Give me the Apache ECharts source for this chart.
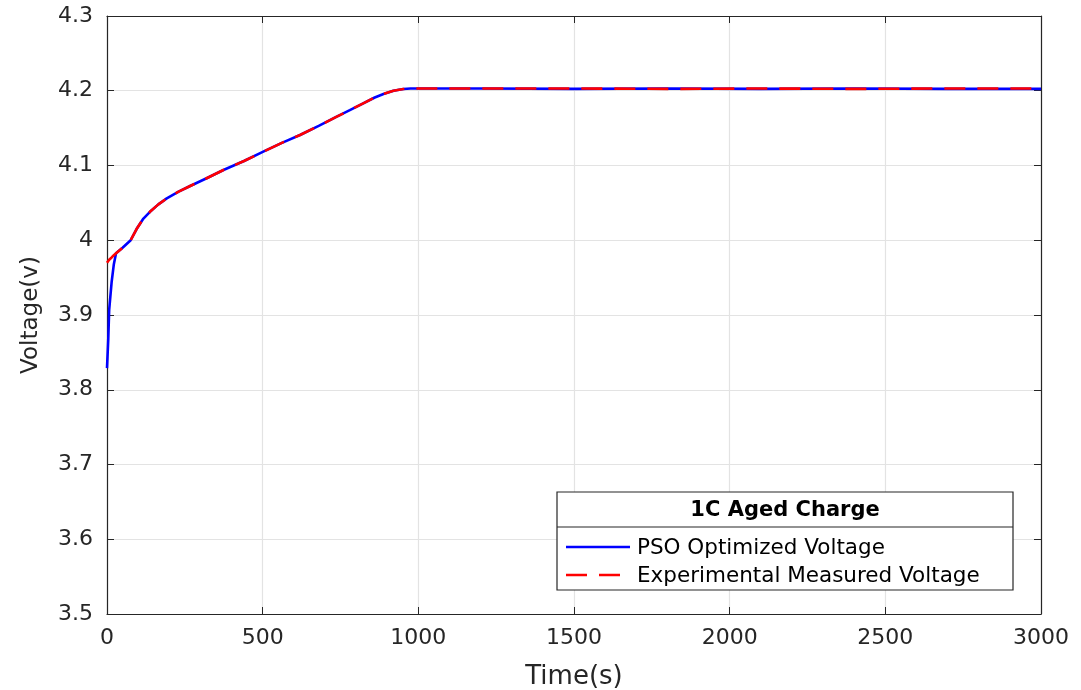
<!DOCTYPE html>
<html>
<head>
<meta charset="utf-8">
<script src="https://cdn.jsdelivr.net/npm/echarts@6/dist/echarts.min.js"></script>
<style>
  html, body { margin: 0; padding: 0; background: #fff; }
  #chart { width: 1081px; height: 690px; }
</style>
</head>
<body>
<div id="chart"></div>
<script>
/* values */
let timeSec = [0, 4, 7, 15, 22, 29, 50, 76, 95, 117, 138, 165, 192, 230, 267, 320, 374, 440, 502,
  560, 620, 680, 738, 780, 823, 860, 888, 920, 952, 975, 995, 1200, 1500, 1800, 2100, 2400, 2700, 3000];

let psoVoltage = [3.829, 3.867, 3.907, 3.9445, 3.968, 3.9825, 3.99, 4.0, 4.015, 4.029, 4.038, 4.048,
  4.056, 4.065, 4.0726, 4.083, 4.094, 4.106, 4.1185, 4.13, 4.1408, 4.153, 4.1653, 4.174, 4.1832,
  4.191, 4.1957, 4.2, 4.2023, 4.203, 4.203, 4.203, 4.2025, 4.203, 4.2025, 4.203, 4.2025, 4.2025];

let measuredVoltage = [3.970, 3.972, 3.974, 3.977, 3.980, 3.9825, 3.99, 4.0, 4.015, 4.029, 4.038,
  4.048, 4.056, 4.065, 4.0726, 4.083, 4.094, 4.106, 4.1185, 4.13, 4.1408, 4.153, 4.1653, 4.174,
  4.1832, 4.191, 4.1957, 4.2, 4.2023, 4.203, 4.203, 4.203, 4.203, 4.2025, 4.203, 4.2025, 4.203, 4.203];

let seriesNames = ["PSO Optimized Voltage", "Experimental Measured Voltage"];
let legendTitle = "1C Aged Charge";

let xTicks = { min: 0, max: 3000, interval: 500 };
let yTicks = { min: 3.5, max: 4.3, interval: 0.1 };

let FONT = "'DejaVu Sans', 'Liberation Sans', Arial, sans-serif";
let AXIS_COLOR = "#262626";
let GRID_COLOR = "#e3e3e3";
let BLUE = "#0000ff";
let RED = "#ff0000";
let DASH = [21, 12];

function pairs(xs, ys) {
  return xs.map(function (x, i) { return [x, ys[i]]; });
}

let chart = echarts.init(document.getElementById("chart"), null, { renderer: "canvas" });

let baseAxis = {
  axisLine: { show: true, onZero: false, lineStyle: { color: AXIS_COLOR, width: 1.2 } },
  axisTick: { show: true, inside: true, length: 7, lineStyle: { color: AXIS_COLOR } },
};

/* legend box drawn by hand (MATLAB style, with a title row) */
let legendBox = [
  {
    type: "rect", z: 50,
    shape: { x: 557, y: 492, width: 456, height: 98 },
    style: { fill: "#fff", stroke: "#262626", lineWidth: 1.2 },
  },
  {
    type: "line", z: 51,
    shape: { x1: 557, y1: 527, x2: 1013, y2: 527 },
    style: { stroke: "#262626", lineWidth: 1.2 },
  },
  {
    type: "text", z: 51, x: 785, y: 511,
    style: {
      text: legendTitle, fill: "#000",
      font: "bold 21px " + FONT, align: "center", verticalAlign: "middle",
    },
  },
  {
    type: "line", z: 51,
    shape: { x1: 566, y1: 547, x2: 630, y2: 547 },
    style: { stroke: BLUE, lineWidth: 2.4 },
  },
  {
    type: "text", z: 51, x: 637, y: 548,
    style: { text: seriesNames[0], fill: "#000", font: "21.5px " + FONT, verticalAlign: "middle" },
  },
  {
    type: "line", z: 51,
    shape: { x1: 566, y1: 575, x2: 630, y2: 575 },
    style: { stroke: RED, lineWidth: 2.4, lineDash: DASH },
  },
  {
    type: "text", z: 51, x: 637, y: 576,
    style: { text: seriesNames[1], fill: "#000", font: "21.5px " + FONT, verticalAlign: "middle" },
  },
];

chart.setOption({
  animation: false,
  backgroundColor: "#fff",
  textStyle: { fontFamily: FONT },
  grid: { left: 107, right: 40, top: 16, bottom: 76, containLabel: false, outerBoundsMode: "none" },
  xAxis: [
    Object.assign({}, baseAxis, {
      type: "value",
      min: xTicks.min, max: xTicks.max, interval: xTicks.interval,
      name: "Time(s)",
      nameLocation: "middle",
      nameGap: 50,
      nameTextStyle: { fontSize: 26, color: AXIS_COLOR, fontFamily: FONT },
      axisLabel: {
        fontSize: 22, color: AXIS_COLOR, margin: 13, fontFamily: FONT,
        formatter: function (v) { return String(v); },
      },
      splitLine: { show: true, lineStyle: { color: GRID_COLOR, width: 1.2 } },
    }),
    Object.assign({}, baseAxis, {
      type: "value", position: "top",
      min: xTicks.min, max: xTicks.max, interval: xTicks.interval,
      axisLabel: { show: false },
      splitLine: { show: false },
    }),
  ],
  yAxis: [
    Object.assign({}, baseAxis, {
      type: "value",
      min: yTicks.min, max: yTicks.max, interval: yTicks.interval,
      name: "Voltage(v)",
      nameLocation: "middle",
      nameGap: 64,
      nameTextStyle: { fontSize: 23, color: AXIS_COLOR, fontFamily: FONT },
      axisLabel: {
        fontSize: 22, color: AXIS_COLOR, margin: 14, fontFamily: FONT,
        formatter: function (v) { return String(Math.round(v * 10) / 10); },
      },
      splitLine: { show: true, lineStyle: { color: GRID_COLOR, width: 1.2 } },
    }),
    Object.assign({}, baseAxis, {
      type: "value", position: "right",
      min: yTicks.min, max: yTicks.max, interval: yTicks.interval,
      axisLabel: { show: false },
      splitLine: { show: false },
    }),
  ],
  graphic: legendBox,
  series: [
    {
      name: seriesNames[0],
      type: "line",
      data: pairs(timeSec, psoVoltage),
      showSymbol: false, symbol: "none",
      lineStyle: { color: BLUE, width: 2.6 },
      itemStyle: { color: BLUE },
      z: 2,
    },
    {
      name: seriesNames[1],
      type: "line",
      data: pairs(timeSec, measuredVoltage),
      showSymbol: false, symbol: "none",
      lineStyle: { color: RED, width: 2.6, type: DASH },
      itemStyle: { color: RED },
      z: 3,
    },
  ],
});
</script>
</body>
</html>
